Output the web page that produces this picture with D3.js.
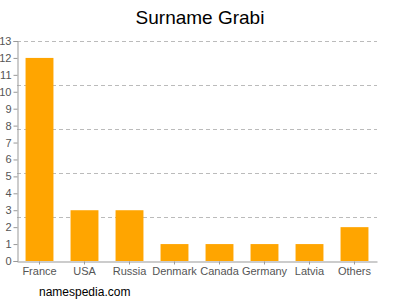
<!DOCTYPE html>
<html><head><meta charset="utf-8">
<script src="https://cdn.jsdelivr.net/npm/d3@7"></script>
<style>body{margin:0;background:#fff}svg{display:block}</style>
</head><body>
<svg id="c" width="400" height="300"></svg>
<script>
const categories = ["France","USA","Russia","Denmark","Canada","Germany","Latvia","Others"];
const values = [12,3,3,1,1,1,1,2];
const yTicks = [0,1,2,3,4,5,6,7,8,9,10,11,12,13];
const gridValues = [2.6,5.2,7.8,10.4,13];
const title = "Surname Grabi";
const footer = "namespedia.com";

(function(){
const svg = d3.select("#c");
const mLeft = 17, mRight = 377, mTop = 41, mBottom = 261;
const x = d3.scaleBand().domain(categories).range([mLeft, mRight]).paddingInner(0.38).paddingOuter(0.19);
const y = d3.scaleLinear().domain([0,13]).range([mBottom, mTop]);

svg.append("g").selectAll("line").data(gridValues).join("line")
  .attr("x1", mLeft).attr("x2", mRight)
  .attr("y1", d => Math.round(y(d))+0.5).attr("y2", d => Math.round(y(d))+0.5)
  .attr("stroke", "#bbb").attr("stroke-dasharray", "4,3");

svg.append("g").selectAll("rect").data(values).join("rect")
  .attr("x", (d,i) => x(categories[i])).attr("width", x.bandwidth())
  .attr("y", d => y(d)).attr("height", d => y(0) - y(d))
  .attr("fill", "#FFA500");

const ya = svg.append("g").attr("transform", `translate(${mLeft+0.5},0)`)
  .call(d3.axisLeft(y).tickValues(yTicks).tickSize(4).tickPadding(2).tickFormat(d3.format("d")));
ya.select(".domain").attr("stroke", "#999");
ya.selectAll(".tick line").attr("stroke", "#999");
ya.selectAll("text").attr("fill", "#555").style("font", "11px 'Liberation Sans', Arial, sans-serif");

const xa = svg.append("g").attr("transform", `translate(0,${mBottom+0.5})`)
  .call(d3.axisBottom(x).tickSize(3).tickSizeOuter(0).tickPadding(3));
xa.select(".domain").attr("stroke", "#999");
xa.selectAll(".tick line").attr("stroke", "#999");
xa.selectAll("text").attr("fill", "#555").style("font", "11px 'Liberation Sans', Arial, sans-serif");

svg.append("text").attr("x", 200).attr("y", 24).attr("text-anchor", "middle")
  .style("font", "19px 'Liberation Sans', Arial, sans-serif").attr("fill", "#000").text(title);
svg.append("text").attr("x", 39).attr("y", 296)
  .style("font", "12px 'Liberation Sans', Arial, sans-serif").attr("fill", "#000").text(footer);
})();
</script>
</body></html>
